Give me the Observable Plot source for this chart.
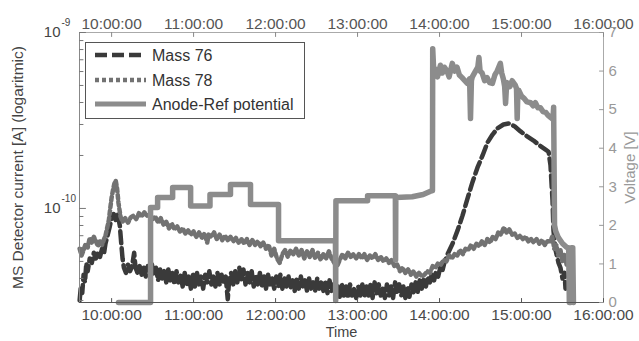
<!DOCTYPE html>
<html><head><meta charset="utf-8">
<script src="https://cdn.jsdelivr.net/npm/d3@7"></script>
<script src="https://cdn.jsdelivr.net/npm/@observablehq/plot@0.6"></script>
<style>body{margin:0;background:#fff}#chart{position:relative;width:639px;height:341px}</style>
</head><body><div id="chart"></div>
<script>
// ---- data (time of day, value) ----
const mass76 = [
["09:36:36",3.0e-11],["09:37:30",3.6e-11],["09:38:30",3.3e-11],["09:39:30",4.2e-11],["09:40:30",3.8e-11],
["09:41:30",4.9e-11],["09:42:30",4.4e-11],["09:44:00",5.2e-11],["09:45:30",4.9e-11],["09:47:00",5.6e-11],
["09:48:30",5.2e-11],["09:50:00",5.7e-11],["09:51:30",5.3e-11],["09:53:00",5.9e-11],["09:54:30",5.6e-11],
["09:55:30",6.3e-11],["09:57:00",7.0e-11],["09:58:30",7.8e-11],["10:00:00",8.8e-11],["10:01:30",9.3e-11],
["10:03:00",8.6e-11],["10:04:30",9.2e-11],["10:06:00",8.0e-11],["10:07:00",6.4e-11],["10:08:00",5.2e-11],
["10:09:00",4.6e-11],["10:10:30",4.3e-11],["10:12:00",4.8e-11],["10:13:30",4.4e-11],["10:15:00",4.7e-11],
["10:16:30",5.6e-11],["10:17:30",4.6e-11],["10:19:00",4.3e-11],["10:20:30",4.7e-11],["10:22:00",4.2e-11],
["10:23:30",4.6e-11],["10:25:00",4.1e-11],["10:26:30",4.7e-11],["10:28:00",4.3e-11],["10:29:30",4.8e-11],
["10:31:00",4.2e-11],["10:32:30",4.6e-11],["10:34:00",3.9e-11],["10:35:30",4.5e-11],["10:37:00",4.0e-11],
["10:38:30",4.4e-11],["10:40:00",3.8e-11],["10:41:30",4.5e-11],["10:43:00",3.9e-11],["10:44:30",4.3e-11],
["10:46:00",3.7e-11],["10:47:30",4.4e-11],["10:49:00",3.8e-11],["10:50:30",4.2e-11],["10:52:00",3.6e-11],
["10:53:30",4.3e-11],["10:55:00",3.7e-11],["10:56:30",4.1e-11],["10:58:00",3.5e-11],["10:59:30",4.2e-11],
["11:01:00",3.6e-11],["11:02:30",4.3e-11],["11:04:00",3.7e-11],["11:05:30",4.1e-11],["11:07:00",3.5e-11],
["11:08:30",4.2e-11],["11:10:00",3.8e-11],["11:11:30",4.4e-11],["11:13:00",3.7e-11],["11:14:30",4.1e-11],
["11:16:00",3.6e-11],["11:17:30",4.3e-11],["11:19:00",3.7e-11],["11:20:30",4.2e-11],["11:22:00",3.8e-11],
["11:23:30",4.1e-11],["11:25:00",3.05e-11],["11:26:00",3.9e-11],["11:27:30",4.3e-11],["11:29:00",3.7e-11],
["11:30:30",4.4e-11],["11:32:00",3.8e-11],["11:33:30",4.6e-11],["11:35:00",3.9e-11],["11:36:30",4.5e-11],
["11:38:00",3.7e-11],["11:39:30",4.3e-11],["11:41:00",3.8e-11],["11:42:30",4.4e-11],["11:44:00",3.6e-11],
["11:45:30",4.2e-11],["11:47:00",3.7e-11],["11:48:30",4.3e-11],["11:50:00",3.6e-11],["11:51:30",4.1e-11],
["11:53:00",3.5e-11],["11:54:30",4.2e-11],["11:56:00",3.7e-11],["11:57:30",4.0e-11],["11:59:00",3.5e-11],
["12:00:30",4.1e-11],["12:02:00",3.6e-11],["12:03:30",4.2e-11],["12:05:00",3.5e-11],["12:06:30",4.0e-11],
["12:08:00",3.6e-11],["12:09:30",4.1e-11],["12:11:00",3.5e-11],["12:12:30",3.9e-11],["12:14:00",3.4e-11],
["12:15:30",4.0e-11],["12:17:00",3.5e-11],["12:18:30",4.1e-11],["12:20:00",3.6e-11],["12:21:30",3.9e-11],
["12:23:00",3.4e-11],["12:24:30",4.0e-11],["12:26:00",3.5e-11],["12:27:30",3.8e-11],["12:29:00",3.4e-11],
["12:30:30",4.0e-11],["12:32:00",3.5e-11],["12:33:30",3.9e-11],["12:35:00",3.4e-11],["12:36:30",3.8e-11],
["12:38:00",3.3e-11],["12:39:30",3.9e-11],["12:41:00",3.4e-11],["12:42:30",3.7e-11],["12:44:00",3.2e-11],
["12:45:30",3.6e-11],["12:47:00",3.15e-11],["12:48:30",3.7e-11],["12:50:00",3.2e-11],["12:51:30",3.6e-11],
["12:53:00",3.1e-11],["12:54:30",3.7e-11],["12:56:00",3.2e-11],["12:57:30",3.5e-11],["12:59:00",3.1e-11],
["13:00:30",3.6e-11],["13:02:00",3.2e-11],["13:03:30",3.7e-11],["13:05:00",3.15e-11],["13:06:30",3.6e-11],
["13:08:00",3.2e-11],["13:09:30",3.7e-11],["13:11:00",3.1e-11],["13:12:30",3.8e-11],["13:14:00",3.3e-11],
["13:15:30",3.7e-11],["13:17:00",3.2e-11],["13:18:30",3.6e-11],["13:20:00",3.1e-11],["13:21:30",3.7e-11],
["13:23:00",3.2e-11],["13:24:30",3.6e-11],["13:26:00",3.1e-11],["13:27:30",3.8e-11],["13:29:00",3.3e-11],
["13:30:30",3.7e-11],["13:32:00",3.2e-11],["13:33:30",3.6e-11],["13:35:00",3.1e-11],["13:36:30",3.6e-11],
["13:38:00",3.15e-11],["13:39:30",3.7e-11],["13:41:00",3.3e-11],["13:42:30",3.8e-11],["13:44:00",3.35e-11],
["13:45:30",3.9e-11],["13:47:00",3.5e-11],["13:48:30",4.0e-11],["13:50:00",3.6e-11],["13:51:30",4.1e-11],
["13:53:00",3.8e-11],["13:54:30",4.3e-11],["13:56:00",3.9e-11],["13:57:30",4.4e-11],["13:59:00",4.1e-11],
["14:00:30",4.6e-11],["14:02:00",4.4e-11],["14:03:30",4.9e-11],["14:05:54",5.5e-11],["14:09:30",6.3e-11],
["14:13:12",7.5e-11],["14:16:48",9.1e-11],["14:20:30",1.14e-10],["14:24:06",1.41e-10],["14:27:48",1.71e-10],
["14:31:30",2.0e-10],["14:35:06",2.37e-10],["14:38:48",2.63e-10],["14:42:24",2.85e-10],["14:46:48",3.0e-10],
["14:50:30",3.04e-10],["14:54:54",2.93e-10],["14:59:18",2.74e-10],["15:04:24",2.56e-10],["15:08:48",2.43e-10],
["15:13:54",2.26e-10],["15:17:36",2.16e-10],["15:19:48",2.1e-10],["15:21:12",1.76e-10],["15:22:42",1.11e-10],
["15:23:24",7.5e-11],["15:24:54",5.8e-11],["15:27:06",4.9e-11],["15:28:30",4.6e-11],["15:30:00",4.0e-11],
["15:31:30",4.3e-11],["15:32:12",3.5e-11]
];
const mass78 = [
["09:36:36",5.9e-11],["09:38:00",5.4e-11],["09:39:30",5.8e-11],["09:41:00",6.3e-11],["09:42:30",6.0e-11],
["09:44:00",6.8e-11],["09:45:30",6.4e-11],["09:47:00",6.9e-11],["09:48:30",6.5e-11],["09:50:00",6.1e-11],
["09:51:30",6.6e-11],["09:53:00",6.2e-11],["09:54:30",6.7e-11],["09:55:30",7.0e-11],["09:56:30",7.6e-11],
["09:58:00",8.6e-11],["09:59:00",1.0e-10],["10:00:00",1.15e-10],["10:01:00",1.27e-10],["10:02:00",1.38e-10],
["10:03:00",1.44e-10],["10:04:00",1.3e-10],["10:05:00",1.08e-10],["10:06:30",9.0e-11],["10:08:00",8.4e-11],
["10:10:00",8.8e-11],["10:12:00",8.3e-11],["10:14:00",8.9e-11],["10:16:00",9.1e-11],["10:18:00",8.7e-11],
["10:20:00",9.4e-11],["10:22:00",9.0e-11],["10:24:00",9.5e-11],["10:26:00",9.1e-11],["10:28:00",9.2e-11],
["10:30:00",8.7e-11],["10:32:00",9.0e-11],["10:34:00",8.3e-11],["10:36:00",8.8e-11],["10:38:00",8.1e-11],
["10:40:00",8.4e-11],["10:42:00",7.7e-11],["10:44:00",8.2e-11],["10:46:00",7.6e-11],["10:48:00",7.9e-11],
["10:50:00",7.4e-11],["10:52:00",7.7e-11],["10:54:00",7.2e-11],["10:56:00",7.5e-11],["10:58:00",7.1e-11],
["11:00:00",7.4e-11],["11:02:00",6.9e-11],["11:04:00",7.3e-11],["11:06:00",6.8e-11],["11:08:00",7.2e-11],
["11:10:00",6.4e-11],["11:11:00",7.1e-11],["11:13:00",6.9e-11],["11:15:00",7.3e-11],["11:17:00",6.7e-11],
["11:19:00",7.1e-11],["11:21:00",6.6e-11],["11:23:00",7.0e-11],["11:25:00",6.6e-11],["11:27:00",6.9e-11],
["11:29:00",6.5e-11],["11:31:00",6.8e-11],["11:33:00",6.4e-11],["11:35:00",6.7e-11],["11:37:00",6.3e-11],
["11:39:00",6.7e-11],["11:41:00",6.2e-11],["11:43:00",6.6e-11],["11:45:00",6.2e-11],["11:47:00",6.5e-11],
["11:49:00",6.1e-11],["11:51:00",6.4e-11],["11:53:00",5.9e-11],["11:55:00",6.2e-11],["11:57:00",5.4e-11],
["11:59:00",5.9e-11],["12:01:00",5.2e-11],["12:03:00",4.9e-11],["12:05:00",5.5e-11],["12:07:00",5.8e-11],
["12:09:00",5.3e-11],["12:11:00",5.8e-11],["12:13:00",5.5e-11],["12:15:00",5.9e-11],["12:17:00",5.4e-11],
["12:19:00",5.8e-11],["12:21:00",5.2e-11],["12:23:00",5.7e-11],["12:25:00",5.3e-11],["12:27:00",5.8e-11],
["12:29:00",5.2e-11],["12:31:00",5.6e-11],["12:33:00",5.1e-11],["12:35:00",5.5e-11],["12:37:00",5.2e-11],
["12:39:00",5.7e-11],["12:41:00",5.2e-11],["12:43:00",4.9e-11],["12:45:00",4.7e-11],["12:47:00",5.1e-11],
["12:49:00",5.5e-11],["12:51:00",5.2e-11],["12:53:00",5.6e-11],["12:55:00",5.3e-11],["12:57:00",5.5e-11],
["12:59:00",5.2e-11],["13:01:00",5.5e-11],["13:03:00",5.2e-11],["13:05:00",5.5e-11],["13:07:00",5.1e-11],
["13:09:00",5.4e-11],["13:11:00",5.2e-11],["13:13:00",5.5e-11],["13:15:00",5.1e-11],["13:17:00",5.3e-11],
["13:19:00",5.0e-11],["13:21:00",5.2e-11],["13:23:00",4.9e-11],["13:25:00",5.1e-11],["13:27:00",4.7e-11],
["13:29:00",4.8e-11],["13:31:00",4.4e-11],["13:33:00",4.6e-11],["13:35:00",4.3e-11],["13:37:00",4.5e-11],
["13:39:00",4.2e-11],["13:41:00",4.4e-11],["13:43:00",4.1e-11],["13:45:00",4.3e-11],["13:47:00",4.1e-11],
["13:49:00",4.2e-11],["13:51:00",4.4e-11],["13:53:00",4.3e-11],["13:55:00",4.7e-11],["13:57:00",4.6e-11],
["13:59:00",4.9e-11],["14:01:00",4.8e-11],["14:03:00",5.1e-11],["14:05:00",5.0e-11],["14:07:00",5.4e-11],
["14:09:00",5.2e-11],["14:11:00",5.5e-11],["14:13:00",5.4e-11],["14:15:00",5.8e-11],["14:17:00",5.5e-11],
["14:19:00",5.9e-11],["14:21:00",5.8e-11],["14:23:00",6.2e-11],["14:25:00",5.9e-11],["14:27:00",6.3e-11],
["14:29:00",6.1e-11],["14:31:00",6.5e-11],["14:33:00",6.2e-11],["14:35:00",6.7e-11],["14:37:00",6.4e-11],
["14:39:00",6.9e-11],["14:41:00",6.7e-11],["14:43:00",7.3e-11],["14:45:00",7.1e-11],["14:47:00",7.8e-11],
["14:49:00",7.3e-11],["14:51:00",7.6e-11],["14:53:00",7.1e-11],["14:55:00",7.2e-11],["14:57:00",6.8e-11],
["14:59:00",7.0e-11],["15:01:00",6.7e-11],["15:03:00",6.9e-11],["15:05:00",6.5e-11],["15:07:00",6.7e-11],
["15:09:00",6.4e-11],["15:11:00",6.7e-11],["15:13:00",6.3e-11],["15:15:00",6.6e-11],["15:17:00",6.2e-11],
["15:19:00",6.5e-11],["15:21:00",6.5e-11],["15:22:30",6.9e-11],["15:24:00",5.9e-11],["15:25:30",6.2e-11],
["15:27:00",5.4e-11],["15:28:30",5.8e-11],["15:30:00",5.0e-11],["15:31:30",5.5e-11],["15:33:00",4.8e-11],
["15:35:00",5.3e-11]
];
// Anode-Ref potential [V]
const voltage = [
["10:05:00",0],["10:28:30",0],["10:28:30",2.46],["10:33:40",2.46],["10:33:40",2.72],["10:44:40",2.72],
["10:44:40",2.98],["10:57:50",2.98],["10:57:50",2.5],["11:12:00",2.5],["11:12:00",2.8],["11:27:00",2.8],
["11:27:00",3.06],["11:41:40",3.06],["11:41:40",2.54],["12:02:10",2.54],["12:02:10",1.6],["12:43:50",1.6],
["12:44:00",0.05],["12:44:10",2.64],["13:07:20",2.64],["13:07:20",2.77],["13:27:40",2.77],["13:27:50",1.1],
["13:28:00",2.72],["13:40:00",2.74],["13:48:00",2.8],["13:53:00",2.88],["13:54:50",2.9],["13:55:00",6.58],
["13:55:50",5.94],["13:57:00",6.05],["13:58:30",5.85],["14:00:40",6.15],["14:02:00",5.95],["14:03:30",6.1],
["14:05:30",6.0],["14:07:00",5.85],["14:09:20",6.2],["14:11:00",6.0],["14:12:50",6.1],["14:14:30",5.9],
["14:16:30",5.83],["14:18:30",5.75],["14:20:20",5.68],["14:22:00",5.8],["14:22:40",4.77],["14:23:20",5.75],
["14:24:00",5.85],["14:26:20",6.0],["14:28:00",6.1],["14:28:50",6.35],["14:29:40",6.0],["14:31:10",5.95],
["14:33:00",5.75],["14:34:50",5.83],["14:36:40",5.7],["14:38:40",5.68],["14:40:30",5.9],["14:42:10",6.0],
["14:44:30",6.2],["14:45:30",5.95],["14:46:40",5.8],["14:47:40",5.6],["14:48:20",5.16],["14:49:00",5.6],
["14:49:30",5.7],["14:51:30",5.6],["14:53:10",5.75],["14:55:30",5.63],["14:56:20",5.55],["14:56:50",4.77],
["14:57:20",5.45],["14:58:00",5.5],["15:00:00",5.35],["15:01:40",5.3],["15:04:00",5.2],["15:06:40",5.18],
["15:08:30",5.1],["15:10:10",5.18],["15:12:00",5.05],["15:13:50",5.05],["15:15:40",4.95],["15:17:40",4.93],
["15:19:30",4.85],["15:21:10",4.8],["15:23:00",4.75],["15:23:30",5.06],["15:24:10",2.0],["15:25:00",1.85],
["15:27:00",1.68],["15:30:00",1.53],["15:33:00",1.43],["15:34:30",1.42],["15:35:00",0],["15:36:00",0],
["15:36:30",1.42],["15:37:30",1.42],["15:38:00",0]
];
const timeTicks = ["10:00:00","11:00:00","12:00:00","13:00:00","14:00:00","15:00:00","16:00:00"];
const timeDomain = ["09:36:30","16:00:00"];
const currentDomain = [2.92e-11, 1e-9];
const currentLabelTicks = [1e-10, 1e-9];
const currentLabelExp = ["-10", "-9"];
const currentMinorTicks = [3e-11,4e-11,5e-11,6e-11,7e-11,8e-11,9e-11,2e-10,3e-10,4e-10,5e-10,6e-10,7e-10,8e-10,9e-10];
const voltTicks = [0,1,2,3,4,5,6,7];
const voltMax = 7;
const seriesNames = ["Mass 76", "Mass 78", "Anode-Ref potential"];
const seriesColors = ["#3a3a3a", "#727272", "#8c8c8c"];
const seriesDash = ["12,5", "4,3", null];

// ---- helpers ----
const parseT = s => { const [h, m, sec = 0] = s.split(":").map(Number); return new Date(Date.UTC(2000, 0, 1, h, m, sec)); };
const [yLo, yHi] = currentDomain;
const vToY = v => yLo * Math.pow(yHi / yLo, v / voltMax);   // voltage mapped onto the shared log scale
const toRows = arr => arr.map(([t, v]) => ({t: parseT(t), v}));
const m76 = toRows(mass76), m78 = toRows(mass78), volt = toRows(voltage);
const xTicks = timeTicks.map(parseT);
const xDom = timeDomain.map(parseT);
const fmt = d3.utcFormat("%H:%M:%S");
const tickShape = {draw(context, l) { context.moveTo(0, 0); context.lineTo(0, -l); }};
const tick = (data, opts) => Plot.vector(data, {anchor: "start", shape: tickShape, strokeWidth: 1, ...opts});

const plot = Plot.plot({
  width: 639, height: 341,
  marginLeft: 79, marginRight: 36, marginTop: 32, marginBottom: 39,
  style: {fontFamily: "'Liberation Sans', Arial, Helvetica, sans-serif", fontSize: "15px", background: "#fff", color: "#444"},
  x: {type: "utc", domain: xDom, axis: null},
  y: {type: "log", domain: currentDomain, axis: null},
  marks: [
    Plot.lineY(m76, {x: "t", y: "v", stroke: seriesColors[0], strokeWidth: 4.5, strokeDasharray: seriesDash[0]}),
    Plot.lineY(m78, {x: "t", y: "v", stroke: seriesColors[1], strokeWidth: 4.5, strokeDasharray: seriesDash[1]}),
    Plot.lineY(volt, {x: "t", y: d => vToY(d.v), stroke: seriesColors[2], strokeWidth: 5.5}),
    // frame sides
    Plot.ruleX([xDom[0]], {stroke: "#888"}),
    Plot.ruleX([xDom[1]], {stroke: "#aaa"}),
    Plot.ruleY([yLo], {stroke: "#555"}),
    Plot.ruleY([yHi], {stroke: "#aaa"}),
    // inward ticks
    tick(xTicks, {x: d => d, frameAnchor: "bottom", rotate: 0, length: 4, stroke: "#555"}),
    tick(xTicks, {x: d => d, frameAnchor: "top", rotate: 180, length: 4, stroke: "#888"}),
    tick(currentMinorTicks, {y: d => d, frameAnchor: "left", rotate: 90, length: 3.5, stroke: "#777"}),
    tick(currentLabelTicks, {y: d => d, frameAnchor: "left", rotate: 90, length: 6, stroke: "#777"}),
    tick(voltTicks, {y: v => vToY(v), frameAnchor: "right", rotate: -90, length: 4, stroke: "#999"}),
    // time labels
    Plot.axisX(xTicks, {anchor: "bottom", tickSize: 0, tickPadding: 6, tickFormat: fmt, fill: "#4a4a4a", fontSize: 15.5, label: null}),
    Plot.axisX(xTicks, {anchor: "top", tickSize: 0, tickPadding: 4, tickFormat: fmt, fill: "#555", fontSize: 15.5, label: null}),
    // left log labels 10^n
    Plot.text(currentLabelTicks, {y: d => d, frameAnchor: "left", dx: -19, textAnchor: "end", text: () => "10", fill: "#444", fontSize: 15}),
    Plot.text(currentLabelTicks, {y: d => d, frameAnchor: "left", dx: -18, dy: -10, textAnchor: "start", text: (d, i) => currentLabelExp[i], fill: "#444", fontSize: 10}),
    // right voltage labels
    Plot.text(voltTicks, {y: v => vToY(v), frameAnchor: "right", dx: 5, textAnchor: "start", text: v => String(v), fill: "#999", fontSize: 15}),
    // axis titles
    Plot.text(["MS Detector current [A] (logaritmic)"], {frameAnchor: "left", dx: -61, rotate: -90, textAnchor: "middle", text: d => d, fill: "#444", fontSize: 15.5}),
    Plot.text(["Voltage [V]"], {frameAnchor: "right", dx: 27, rotate: -90, textAnchor: "middle", text: d => d, fill: "#999", fontSize: 15}),
    Plot.text(["Time"], {frameAnchor: "bottom", dy: 34, textAnchor: "middle", text: d => d, fill: "#444", fontSize: 14.5})
  ]
});

// legend box (top-left, inside the frame)
const svg = d3.select(plot);
const lg = svg.append("g").attr("text-anchor", "start");
lg.append("rect").attr("x", 85.5).attr("y", 42.5).attr("width", 219).attr("height", 76)
  .attr("fill", "#fff").attr("stroke", "#555").attr("stroke-width", 1);
const rowY = [55, 80, 104];
seriesNames.forEach((name, i) => {
  lg.append("line").attr("x1", 95).attr("x2", 146).attr("y1", rowY[i]).attr("y2", rowY[i])
    .attr("stroke", seriesColors[i]).attr("stroke-width", i === 2 ? 5 : 4.5)
    .attr("stroke-dasharray", seriesDash[i]);
  lg.append("text").attr("x", 152).attr("y", rowY[i]).attr("dy", "0.35em").attr("text-anchor", "start")
    .attr("font-size", 16).attr("fill", "#333").text(name);
});
document.getElementById("chart").appendChild(plot);
</script>
</body></html>
